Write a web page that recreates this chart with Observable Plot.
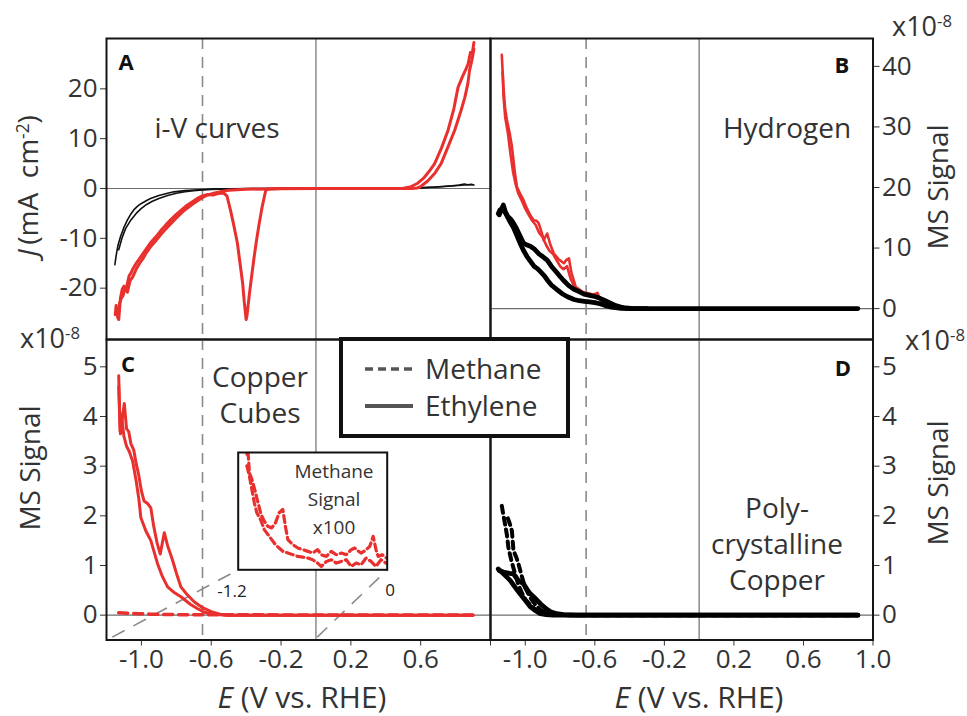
<!DOCTYPE html>
<html><head><meta charset="utf-8">
<script src="https://cdn.jsdelivr.net/npm/d3@7"></script>
<script src="https://cdn.jsdelivr.net/npm/@observablehq/plot@0.6"></script>
<style>
body{margin:0;background:#fff;}
#chart{position:relative;width:967px;height:716px;font-family:"Open Sans",sans-serif;color:#333;overflow:hidden;background:#fff;}
#chart svg{position:absolute;left:0;top:0;}
.lbl{position:absolute;white-space:nowrap;transform:translate(-50%,-50%);line-height:1.05;color:#333;}
.lbl sup{font-size:0.62em;vertical-align:0.55em;line-height:0;}
#legend{position:absolute;left:339px;top:337px;width:231px;height:101px;box-sizing:border-box;border:4px solid #111;background:#fff;}
</style>
</head><body>
<div id="chart"></div>
<script>
// ---------- data ----------
const xDomain = [-1.2, 1.0];
const onsetPotential = [-0.65];
const zeroLine = [0];
const ticksA = [-20, -10, 0, 10, 20];
const ticksB = [0, 10, 20, 30, 40];
const ticksCD = [0, 1, 2, 3, 4, 5];
const xTicksC = [-1.0, -0.6, -0.2, 0.2, 0.6, 1.0];
const xTicksD = [-1.0, -0.6, -0.2, 0.2, 0.6, 1.0];

// Panel A: i-V curves, J (mA cm-2)
const aBlack1E = [-1.152,-1.145,-1.135,-1.12,-1.10,-1.08,-1.06,-1.044,-1.02,-1.00,-0.97,-0.948,-0.90,-0.85,-0.814,-0.75,-0.70,-0.65,-0.60,-0.50,-0.30,0,0.3,0.5,0.56,0.62,0.68,0.74,0.78,0.82,0.85,0.87,0.89,0.905];
const aBlack1J = [-15.3,-13.5,-11.5,-9.7,-7.8,-6.3,-5.1,-4.3,-3.5,-3.0,-2.4,-2.0,-1.4,-0.95,-0.67,-0.42,-0.3,-0.2,-0.13,-0.06,-0.02,0,0,0.05,0.1,0.2,0.3,0.45,0.55,0.7,0.9,0.75,0.85,0.7];
const aBlack2E = [-1.13,-1.11,-1.09,-1.06,-1.03,-1.00,-0.97,-0.94,-0.90,-0.85,-0.80,-0.75,-0.70,-0.65,-0.60,-0.55,-0.45,-0.3,0,0.3,0.5,0.6,0.7,0.8,0.85,0.9];
const aBlack2J = [-12.3,-9.8,-8.0,-6.3,-5.0,-4.0,-3.2,-2.6,-2.0,-1.4,-0.95,-0.65,-0.45,-0.3,-0.2,-0.12,-0.06,-0.02,0,0,0.03,0.12,0.3,0.55,0.7,0.75];
const aRed1E = [-1.15,-1.145,-1.14,-1.13,-1.12,-1.11,-1.10,-1.09,-1.08,-1.07,-1.06,-1.05,-1.03,-1.01,-0.99,-0.97,-0.95,-0.92,-0.89,-0.86,-0.83,-0.80,-0.77,-0.74,-0.71,-0.68,-0.65,-0.62,-0.59,-0.56,-0.53,-0.51,-0.49,-0.47,-0.45,-0.435,-0.42,-0.41,-0.40,-0.395,-0.383,-0.37,-0.354,-0.34,-0.325,-0.31,-0.296,-0.287,-0.27,-0.2,0,0.2,0.4,0.5,0.54,0.58,0.62,0.65,0.68,0.72,0.757,0.79,0.814,0.84,0.86,0.872,0.885,0.895,0.905];
const aRed1J = [-25.3,-23.5,-24.5,-26.3,-22,-20.2,-19.6,-20.5,-19.0,-17.5,-17.0,-16.2,-15.0,-14.0,-13.0,-12.0,-11.0,-9.8,-8.5,-7.3,-6.2,-5.2,-4.3,-3.4,-2.7,-2.0,-1.5,-1.2,-1.3,-1.0,-0.9,-1.5,-4.3,-7.5,-11,-15,-19,-23,-26.3,-25.5,-21.7,-18,-13.7,-10.3,-7,-4,-1.7,-0.3,-0.1,0,0,0,0,0.05,0.3,1.0,2.2,3.5,5.0,8.2,11.7,16.0,20.3,22.5,24.0,25.0,27.3,27.0,29.3];
const aRed2E = [-1.14,-1.135,-1.125,-1.115,-1.105,-1.095,-1.08,-1.065,-1.05,-1.03,-1.01,-0.99,-0.97,-0.95,-0.92,-0.89,-0.86,-0.83,-0.80,-0.77,-0.74,-0.71,-0.68,-0.65,-0.62,-0.58,-0.54,-0.5,-0.4,-0.2,0,0.2,0.4,0.55,0.58,0.60,0.64,0.68,0.717,0.75,0.795,0.83,0.853,0.87,0.88,0.895,0.905];
const aRed2J = [-24.5,-26.0,-23.0,-22.0,-21.5,-20.0,-20.8,-18.5,-17.8,-16.2,-15.0,-14.0,-12.8,-11.8,-10.6,-9.3,-8.1,-7.0,-5.9,-4.9,-4.0,-3.2,-2.5,-1.8,-1.3,-0.9,-0.6,-0.35,-0.15,-0.05,0,0,0,0.02,0.1,0.4,1.5,3.0,5.0,7.8,11.7,15.5,18.3,21.0,23.7,26.0,28.0];

// Panel B: Hydrogen MS signal (x1e-8)
const bRed1E = [-1.135,-1.13,-1.126,-1.116,-1.106,-1.09,-1.077,-1.06,-1.048,-1.03,-1.01,-0.99,-0.971,-0.952,-0.935,-0.923,-0.905,-0.894,-0.874,-0.855,-0.836,-0.81,-0.778,-0.765,-0.749,-0.735,-0.71,-0.69,-0.662,-0.63,-0.60,-0.585,-0.565,-0.54,-0.507,-0.47,-0.4,-0.2,0];
const bRed1V = [41.9,39,36.7,33,31.2,29,26.8,22.5,20.1,19,17.9,16.5,15.4,14.6,14.5,14.1,12.5,11.3,12.4,10.5,9.1,8.2,7.5,8.0,8.3,6,3.6,3.2,2.5,2.3,2.4,2.6,1.2,0.6,0.1,0,0,0,0];
const bRed2E = [-1.13,-1.125,-1.115,-1.10,-1.085,-1.07,-1.055,-1.04,-1.02,-1.0,-0.98,-0.96,-0.94,-0.92,-0.90,-0.88,-0.86,-0.84,-0.82,-0.80,-0.78,-0.76,-0.74,-0.72,-0.70,-0.68,-0.65,-0.62,-0.59,-0.56,-0.53,-0.5,-0.45,-0.4];
const bRed2V = [39,35,31.5,29,25.5,22.5,20.5,19,17.8,16.5,15.5,14.5,13.8,12.5,11.8,10.5,9.5,9.0,8.0,7.0,6.5,7.0,5.0,3.8,3.2,2.8,2.6,2.4,2.0,1.3,0.6,0.2,0.05,0];
const bBlack1E = [-1.155,-1.145,-1.135,-1.126,-1.115,-1.10,-1.085,-1.068,-1.05,-1.03,-1.01,-0.99,-0.971,-0.95,-0.92,-0.90,-0.874,-0.85,-0.82,-0.80,-0.778,-0.75,-0.72,-0.69,-0.662,-0.63,-0.60,-0.57,-0.54,-0.51,-0.48,-0.45,-0.42,-0.38,-0.3,0,0.3,0.6,0.913];
const bBlack1V = [15.7,16.3,16.2,17.1,16.0,15.2,14.8,14.1,13.2,12.0,10.8,10.5,10.3,9.9,9.0,8.6,8.0,7.0,6.0,5.3,4.6,3.8,3.2,2.8,2.4,2.2,2.0,1.7,1.3,0.9,0.5,0.25,0.1,0,0,0,0,0,0];
const bBlack2E = [-1.15,-1.14,-1.13,-1.118,-1.10,-1.085,-1.068,-1.05,-1.03,-1.01,-0.99,-0.97,-0.95,-0.93,-0.913,-0.89,-0.87,-0.85,-0.816,-0.79,-0.76,-0.72,-0.69,-0.66,-0.63,-0.60,-0.57,-0.54,-0.51,-0.48,-0.45,-0.4,-0.3];
const bBlack2V = [15.5,16.2,16.8,16.0,15.0,14.2,13.4,12.2,10.8,9.6,8.6,7.8,7.0,6.6,6.1,5.4,4.6,3.9,3.1,2.5,2.0,1.5,1.3,1.2,1.1,1.0,0.8,0.5,0.3,0.15,0.05,0,0];

// Panel C: Copper cubes, ethylene (solid) and methane (dashed), x1e-8
const cEth1E = [-1.13,-1.125,-1.12,-1.11,-1.098,-1.085,-1.073,-1.06,-1.044,-1.03,-1.016,-1.0,-0.985,-0.965,-0.946,-0.93,-0.91,-0.892,-0.869,-0.85,-0.821,-0.80,-0.774,-0.74,-0.698,-0.65,-0.60,-0.55,-0.5,-0.3,0,0.3,0.6,0.9];
const cEth1V = [4.82,4.1,3.65,3.95,4.26,3.75,3.7,3.45,3.33,3.05,2.83,2.5,2.3,2.25,2.16,1.8,1.45,1.23,1.66,1.4,1.1,0.85,0.57,0.42,0.27,0.15,0.07,0.02,0,0,0,0,0,0];
const cEth2E = [-1.13,-1.122,-1.115,-1.10,-1.085,-1.07,-1.05,-1.03,-1.015,-1.003,-0.975,-0.946,-0.925,-0.907,-0.88,-0.85,-0.81,-0.774,-0.72,-0.678,-0.64,-0.6,-0.55,-0.5,0.9];
const cEth2V = [4.6,3.7,4.05,3.6,3.4,3.3,3.1,2.7,2.35,1.96,1.7,1.5,1.25,1.03,0.78,0.57,0.45,0.37,0.22,0.13,0.06,0.03,0.01,0,0];
const cMethE = [-1.13,-1.08,-1.02,-0.95,-0.85,-0.75,-0.6,-0.3,0,0.3,0.6,0.9];
const cMethV = [0.05,0.04,0.03,0.02,0.012,0.01,0.008,0.006,0.005,0.005,0.005,0.005];
// Inset: methane signal x100
const insetX = [-1.2, 0];
const insetY = [0.5, 4.0];
const inMeth1E = [-1.13,-1.12,-1.11,-1.09,-1.07,-1.04,-1.016,-0.99,-0.962,-0.93,-0.90,-0.87,-0.841,-0.82,-0.80,-0.76,-0.72,-0.68,-0.639,-0.60,-0.56,-0.531,-0.49,-0.45,-0.41,-0.369,-0.33,-0.29,-0.262,-0.23,-0.208,-0.17,-0.14,-0.113,-0.09,-0.073,-0.04,-0.006];
const inMeth1V = [3.95,3.97,3.4,3.2,2.94,2.5,2.15,1.95,1.8,1.75,1.9,2.2,2.3,1.8,1.4,1.25,1.15,1.1,1.05,1.0,1.1,0.95,0.9,1.05,0.95,1.0,0.95,1.1,1.15,1.05,1.0,1.1,1.2,1.5,1.1,0.9,0.95,0.85];
const inMeth2E = [-1.13,-1.11,-1.09,-1.07,-1.05,-1.02,-0.99,-0.96,-0.93,-0.90,-0.87,-0.84,-0.80,-0.76,-0.72,-0.68,-0.64,-0.60,-0.56,-0.53,-0.49,-0.45,-0.41,-0.37,-0.33,-0.29,-0.25,-0.21,-0.17,-0.13,-0.09,-0.05,-0.01];
const inMeth2V = [3.6,3.3,2.9,2.5,2.2,2.0,1.7,1.55,1.4,1.25,1.15,1.05,1.0,0.95,0.9,0.88,0.85,0.8,0.7,0.6,0.75,0.8,0.7,0.75,0.8,0.6,0.7,0.65,0.85,0.75,0.6,0.8,0.7];
// zoom guide lines from the main axis to the inset corners (panel C data units)
const zoomGuides = [
  {x1: -1.167, y1: -0.443, x2: -0.445, y2: 0.914},
  {x1: 0.007, y1: -0.443, x2: 0.409, y2: 0.914}
];

// Panel D: polycrystalline copper, x1e-8
const dMeth1E = [-1.135,-1.125,-1.116,-1.105,-1.097,-1.08,-1.06,-1.04,-1.02,-1.0,-0.97,-0.94,-0.91,-0.88,-0.84,-0.78,-0.7,-0.5,0,0.5,0.913];
const dMeth1V = [2.2,2.0,1.83,1.6,1.36,1.1,0.85,0.62,0.45,0.32,0.2,0.11,0.06,0.03,0.01,0,0,0,0,0,0];
const dMeth2E = [-1.10,-1.09,-1.077,-1.068,-1.05,-1.039,-1.019,-1.0,-0.97,-0.94,-0.91,-0.88,-0.84,-0.78,-0.7];
const dMeth2V = [1.95,1.85,1.7,1.3,1.15,1.03,0.77,0.55,0.35,0.2,0.1,0.05,0.02,0.005,0];
const dEth1E = [-1.155,-1.13,-1.11,-1.087,-1.06,-1.03,-1.0,-0.971,-0.94,-0.913,-0.88,-0.84,-0.78,-0.7,-0.5,0,0.5,0.913];
const dEth1V = [0.93,0.85,0.78,0.7,0.57,0.43,0.3,0.17,0.09,0.03,0.01,0,0,0,0,0,0,0];
const dEth2E = [-1.15,-1.12,-1.09,-1.068,-1.04,-1.01,-0.99,-0.971,-0.94,-0.913,-0.88,-0.855,-0.82,-0.78,-0.7,-0.6,0.913];
const dEth2V = [0.9,0.86,0.84,0.83,0.7,0.63,0.52,0.43,0.33,0.23,0.13,0.07,0.03,0.01,0,0,0];

// ---------- drawing ----------
const W = 967, H = 716;
const RED = "#e8302e";
const FONT = "'Open Sans', sans-serif";
const chart = document.getElementById("chart");
const zip = (E, V, trace) => E.map((e, i) => ({E: e, v: V[i], trace}));
const fmt1 = d => d.toFixed(1);
const fmtInt = d => String(d);

function box(left, right, top, bottom) {
  return {marginLeft: left, marginRight: W - right, marginTop: top, marginBottom: H - bottom, width: W, height: H};
}
const baseStyle = {background: "transparent", fontFamily: FONT, fontSize: "26px", color: "#333", overflow: "visible"};
function guides() {
  return [
    Plot.ruleY(zeroLine, {stroke: "#6e6e6e", strokeWidth: 1.2}),
    Plot.ruleX(zeroLine, {stroke: "#6e6e6e", strokeWidth: 1.2}),
    Plot.ruleX(onsetPotential, {stroke: "#8a8a8a", strokeWidth: 1.6, strokeDasharray: "11,8"})
  ];
}
const frame = () => Plot.frame({stroke: "#151515", strokeWidth: 2});

const L = 106, M = 490, R = 872.5, T = 38, MID = 339, B = 639.5;

// Panel A
const pA = Plot.plot({
  ...box(L, M, T, MID), style: baseStyle,
  x: {domain: xDomain, axis: null},
  y: {domain: [-30.3, 30.1], ticks: ticksA, tickFormat: fmtInt, tickSize: 6, tickPadding: 3, label: null},
  marks: [
    ...guides(),
    Plot.line(zip(aBlack1E, aBlack1J, 1).concat(zip(aBlack2E, aBlack2J, 2)), {x: "E", y: "v", z: "trace", stroke: "#111", strokeWidth: 1.6}),
    Plot.line(zip(aRed1E, aRed1J, 1).concat(zip(aRed2E, aRed2J, 2)), {x: "E", y: "v", z: "trace", stroke: RED, strokeWidth: 3, strokeLinejoin: "round"}),
    frame()
  ]
});
// Panel B
const pB = Plot.plot({
  ...box(M, R, T, MID), style: baseStyle,
  x: {domain: xDomain, axis: null},
  y: {domain: [-5.1, 44.6], axis: "right", ticks: ticksB, tickFormat: fmtInt, tickSize: 6, tickPadding: 3, label: null},
  marks: [
    ...guides(),
    Plot.line(zip(bRed1E, bRed1V, 1).concat(zip(bRed2E, bRed2V, 2)), {x: "E", y: "v", z: "trace", stroke: RED, strokeWidth: 2.6, strokeLinejoin: "round"}),
    Plot.line(zip(bBlack1E, bBlack1V, 1).concat(zip(bBlack2E, bBlack2V, 2)), {x: "E", y: "v", z: "trace", stroke: "#000", strokeWidth: 4.8, strokeLinejoin: "round", strokeLinecap: "round"}),
    frame()
  ]
});
// Panel C
const pC = Plot.plot({
  ...box(L, M, MID, B), style: baseStyle,
  x: {domain: xDomain, ticks: xTicksC, tickFormat: d => d === 1 ? "" : fmt1(d), tickSize: 6, tickPadding: 4, label: null},
  y: {domain: [-0.5, 5.55], ticks: ticksCD, tickFormat: fmtInt, tickSize: 6, tickPadding: 3, label: null},
  marks: [
    ...guides(),
    Plot.link(zoomGuides, {x1: "x1", y1: "y1", x2: "x2", y2: "y2", stroke: "#8a8a8a", strokeWidth: 1.6, strokeDasharray: "14,10"}),
    Plot.line(zip(cMethE, cMethV, 0), {x: "E", y: "v", stroke: RED, strokeWidth: 3.5, strokeDasharray: "9,6"}),
    Plot.line(zip(cEth1E, cEth1V, 1).concat(zip(cEth2E, cEth2V, 2)), {x: "E", y: "v", z: "trace", stroke: RED, strokeWidth: 3, strokeLinejoin: "round"}),
    frame()
  ]
});
// Panel D
const pD = Plot.plot({
  ...box(M, R, MID, B), style: baseStyle,
  x: {domain: xDomain, ticks: xTicksD, tickFormat: fmt1, tickSize: 6, tickPadding: 4, label: null},
  y: {domain: [-0.5, 5.55], axis: "right", ticks: ticksCD, tickFormat: fmtInt, tickSize: 6, tickPadding: 3, label: null},
  marks: [
    ...guides(),
    Plot.line(zip(dMeth1E, dMeth1V, 1).concat(zip(dMeth2E, dMeth2V, 2)), {x: "E", y: "v", z: "trace", stroke: "#000", strokeWidth: 4, strokeDasharray: "7,5"}),
    Plot.line(zip(dEth1E, dEth1V, 1).concat(zip(dEth2E, dEth2V, 2)), {x: "E", y: "v", z: "trace", stroke: "#000", strokeWidth: 4.8, strokeLinejoin: "round", strokeLinecap: "round"}),
    frame()
  ]
});
// Inset
const pI = Plot.plot({
  ...box(237.7, 386.7, 452, 569.3), style: baseStyle,
  x: {domain: insetX, axis: null},
  y: {domain: insetY, axis: null},
  marks: [
    Plot.frame({fill: "white"}),
    Plot.line(zip(inMeth1E, inMeth1V, 1).concat(zip(inMeth2E, inMeth2V, 2)), {x: "E", y: "v", z: "trace", stroke: RED, strokeWidth: 3.2, strokeDasharray: "7,4"}),
    Plot.frame({stroke: "#111", strokeWidth: 2})
  ]
});
[pA, pB, pC, pD].forEach(p => chart.appendChild(p));

// legend
const leg = document.createElement("div");
leg.id = "legend";
chart.appendChild(leg);
chart.appendChild(pI);
const ns = "http://www.w3.org/2000/svg";
const lsvg = document.createElementNS(ns, "svg");
lsvg.setAttribute("width", W); lsvg.setAttribute("height", H);
lsvg.style.pointerEvents = "none";
[[369, "8,5", 3.5], [406, null, 4]].forEach(([y, dash, w]) => {
  const ln = document.createElementNS(ns, "line");
  ln.setAttribute("x1", 365); ln.setAttribute("x2", 413); ln.setAttribute("y1", y); ln.setAttribute("y2", y);
  ln.setAttribute("stroke", "#555"); ln.setAttribute("stroke-width", w);
  if (dash) ln.setAttribute("stroke-dasharray", dash);
  lsvg.appendChild(ln);
});
chart.appendChild(lsvg);

function label(html, x, y, size, opts = {}) {
  const d = document.createElement("div");
  d.className = "lbl";
  d.innerHTML = html;
  d.style.left = x + "px"; d.style.top = y + "px";
  d.style.fontSize = size + "px";
  if (opts.bold) d.style.fontWeight = "700";
  if (opts.rot) d.style.transform = "translate(-50%,-50%) rotate(-90deg)";
  if (opts.left) d.style.transform = "translate(0,-50%)";
  if (opts.color) d.style.color = opts.color;
  chart.appendChild(d);
  return d;
}
label("<i>J</i>&thinsp;(mA&nbsp; cm<sup>-2</sup>)", 28, 186, 28, {rot: true});
label("MS Signal", 30, 468, 28, {rot: true});
label("MS Signal", 938, 187, 28, {rot: true});
label("MS Signal", 938, 483, 28, {rot: true});
label("<i>E</i> (V vs. RHE)", 302, 697, 30);
label("<i>E</i> (V vs. RHE)", 699, 697, 30);
label("x10<sup>-8</sup>", 50, 338, 27);
label("x10<sup>-8</sup>", 922, 26, 27);
label("x10<sup>-8</sup>", 935, 340, 27);
label("A", 126, 62, 22, {bold: true, color: "#111"});
label("B", 842, 65, 22, {bold: true, color: "#111"});
label("C", 128, 364, 22, {bold: true, color: "#111"});
label("D", 843, 368, 22, {bold: true, color: "#111"});
label("i-V curves", 217, 128, 28);
label("Hydrogen", 787, 128, 28);
label("Copper", 260, 377, 28);
label("Cubes", 260, 413, 28);
label("Poly-", 777, 508, 28);
label("crystalline", 777, 544, 28);
label("Copper", 777, 580, 28);
label("Methane", 334, 472, 19);
label("Signal", 334, 500, 19);
label("x100", 334, 528, 19);
label("-1.2", 232, 591, 17, {color: "#222"});
label("0", 390, 590, 17, {color: "#222"});
label("Methane", 425, 369, 28, {left: true});
label("Ethylene", 425, 406, 28, {left: true});
</script>
</body></html>
